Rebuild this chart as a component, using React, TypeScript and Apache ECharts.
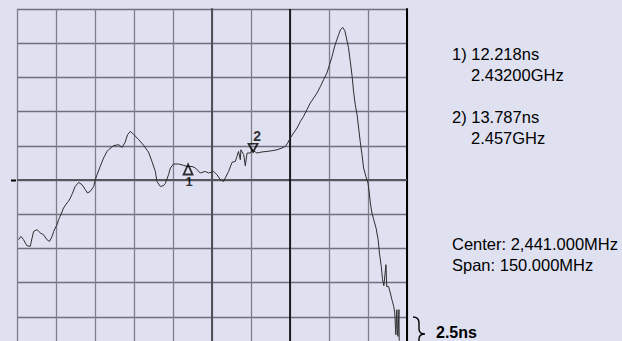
import React, { useEffect, useRef } from "react";
import * as echarts from "echarts";

// Frequency offset from center (MHz), center 2441 MHz, span 150 MHz
const freqOffsetMHz = [
  -74.4, -73.5, -72.5, -71.2, -69.9, -69.2, -68.6, -67.3, -66.0, -64.8,
  -63.5, -62.5, -61.5, -60.9, -60.3, -59.6, -59.0, -58.4, -57.1, -55.8,
  -55.2, -54.5, -53.9, -52.6, -51.3, -50.0, -48.7, -47.9, -46.8, -45.5,
  -44.9, -44.2, -43.0, -41.7, -40.4, -39.8, -37.9, -35.9, -34.6, -33.4,
  -32.5, -31.4, -30.2, -28.2, -26.3, -24.4, -23.1, -21.8, -21.2, -19.9,
  -18.7, -18.0, -16.7, -16.0, -14.8, -12.9, -10.9, -9.6, -7.7, -6.4,
  -4.5, -2.6, -1.3, 0.6, 1.9, 3.2, 4.5, 5.1, 6.4, 7.7,
  9.0, 9.6, 10.2, 10.9, 11.1, 12.2, 12.8, 13.5, 14.7, 15.4,
  17.3, 19.2, 21.2, 23.1, 25.0, 26.9, 28.2, 29.1, 30.1, 31.4,
  32.7, 34.0, 35.2, 36.5, 37.8, 39.1, 40.4, 41.7, 42.9, 44.2,
  45.2, 46.2, 47.0, 47.8, 48.7, 49.4, 50.3, 51.1, 51.7, 52.5,
  53.2, 53.9, 54.5, 55.1, 55.8, 56.4, 57.0, 57.7, 58.3, 59.2,
  60.0, 60.5, 60.9, 61.5, 62.2, 63.1, 63.9, 64.4, 65.1, 65.6,
  66.1, 66.9, 67.2, 67.9, 68.6, 69.2, 69.9, 70.3, 70.7, 71.1,
  71.3, 71.5, 71.9, 72.0,
];

// Group delay (ns), 2.5 ns/div
const groupDelayNs = [
  8.14, 8.38, 8.14, 7.70, 7.65, 8.26, 8.74, 8.87, 8.63, 8.50,
  8.14, 8.01, 8.38, 8.74, 8.99, 9.23, 9.60, 9.84, 10.45, 10.82,
  10.94, 11.18, 11.43, 12.03, 12.32, 12.16, 11.79, 11.55, 11.67, 12.03,
  12.52, 12.89, 13.49, 14.11, 14.59, 14.71, 15.01, 15.08, 14.88, 15.26,
  15.81, 16.05, 15.85, 15.45, 15.04, 14.53, 13.86, 13.13, 12.40, 12.03,
  12.08, 12.23, 12.89, 13.38, 13.67, 13.67, 13.57, 13.49, 13.49, 13.38,
  13.01, 13.13, 13.01, 13.13, 12.89, 12.52, 12.40, 12.65, 13.13, 13.79,
  13.86, 14.23, 14.59, 13.98, 14.71, 14.35, 13.54, 14.47, 14.47, 14.71,
  14.47, 14.55, 14.59, 14.64, 14.71, 14.84, 14.96, 15.20, 15.57, 15.94,
  16.30, 16.78, 17.15, 17.64, 18.13, 18.49, 18.86, 19.34, 19.83, 20.32,
  20.93, 21.54, 22.15, 22.63, 23.12, 23.49, 23.65, 23.41, 22.88, 22.17,
  21.15, 20.07, 18.88, 18.00, 17.27, 16.30, 15.32, 14.35, 13.38, 12.76,
  12.28, 11.55, 10.82, 10.09, 9.60, 8.99, 8.14, 7.16, 6.18, 5.21,
  4.77, 6.31, 4.70, 4.72, 4.24, 3.75, 3.26, 2.78, 1.19, 3.02,
  1.56, 1.07, 3.02, 0.75,
];

const marker1 = { label: "1", freq: -9.2, delay: 13.49 };
const marker2 = { label: "2", freq: 15.8, delay: 14.71 };

const markerTexts = [
  { line1: "1) 12.218ns", line2: "2.43200GHz" },
  { line1: "2) 13.787ns", line2: "2.457GHz" },
];
const centerText = "Center: 2,441.000MHz";
const spanText = "Span: 150.000MHz";
const scaleText = "2.5ns";

const xMin = -75, xMax = 75, xInterval = 15;
const yMin = 0, yMax = 25, yInterval = 2.5;
const refLevel = 12.5;
const markerLineX = 30;

const FONT = "'Liberation Sans', Arial, Helvetica, sans-serif";

echarts.graphic.registerShape(
  "brace",
  echarts.graphic.extendPath(
    "M0,0 Q6,0 6,6 L6,12 Q6,17 12,17 Q6,17 6,22 L6,28 Q6,34 0,34",
    {}
  )
);

export default function App() {
  const ref = useRef<HTMLDivElement>(null);

  useEffect(() => {
    document.body.style.margin = "0";
    if (!ref.current) return;
    const chart = echarts.init(ref.current, undefined, { renderer: "svg" });

    const trace = freqOffsetMHz.map((f, i) => [f, groupDelayNs[i]]);

    const textStyle = (text: string, x: number, y: number, bold = false, size = 16.5) => ({
      type: "text",
      x,
      y,
      style: {
        text,
        font: `${bold ? "bold " : ""}${size}px ${FONT}`,
        fill: "#000",
        textAlign: "left",
        textVerticalAlign: "middle",
        verticalAlign: "middle",
      },
      silent: true,
    });

    chart.setOption({
      animation: false,
      backgroundColor: "#dfe1f1",
      grid: {
        left: 17,
        top: 9,
        width: 390,
        height: 342,
        show: false,
        containLabel: false,
        outerBoundsMode: "none",
      },
      xAxis: {
        type: "value",
        min: xMin,
        max: xMax,
        interval: xInterval,
        position: "top",
        axisLine: { show: true, lineStyle: { color: "#111", width: 1 } },
        axisTick: { show: false },
        axisLabel: { show: false },
        splitLine: { show: true, lineStyle: { color: "#7c7e8a", width: 1.3 } },
      },
      yAxis: [
        {
          type: "value",
          min: yMin,
          max: yMax,
          interval: yInterval,
          position: "left",
          axisLine: { show: true, lineStyle: { color: "#505058", width: 2 } },
          axisTick: { show: false },
          axisLabel: { show: false },
          splitLine: { show: true, lineStyle: { color: "#6e707c", width: 1.4 } },
        },
        {
          type: "value",
          min: yMin,
          max: yMax,
          interval: yInterval,
          position: "right",
          axisLine: { show: true, lineStyle: { color: "#000", width: 2 } },
          axisTick: { show: false },
          axisLabel: { show: false },
          splitLine: { show: false },
        },
      ],
      series: [
        {
          type: "line",
          data: trace,
          showSymbol: false,
          lineStyle: { color: "#2e2e2e", width: 1 },
          z: 5,
          markLine: {
            silent: true,
            symbol: ["none", "none"],
            label: { show: false },
            data: [
              { yAxis: refLevel, lineStyle: { color: "#55575f", width: 2.2, type: "solid" } },
              { xAxis: markerLineX, lineStyle: { color: "#000", width: 1.6, type: "solid" } },
            ],
          },
        },
        {
          type: "scatter",
          data: [[marker1.freq, marker1.delay]],
          symbol: "triangle",
          symbolSize: [9, 10],
          symbolOffset: [0, 3],
          itemStyle: { color: "rgba(0,0,0,0)", borderColor: "#000", borderWidth: 1.8 },
          label: {
            show: true,
            formatter: marker1.label,
            position: "bottom",
            distance: 0,
            color: "#000",
            fontSize: 13,
            fontWeight: "bold",
            fontFamily: FONT,
            offset: [1, 0],
          },
          z: 10,
        },
        {
          type: "scatter",
          data: [[marker2.freq, marker2.delay]],
          symbol: "triangle",
          symbolRotate: 180,
          symbolSize: [9, 8],
          symbolOffset: [0, -2],
          itemStyle: { color: "rgba(0,0,0,0)", borderColor: "#000", borderWidth: 1.8 },
          label: {
            show: true,
            formatter: marker2.label,
            position: "top",
            distance: 0,
            color: "#000",
            fontSize: 14,
            fontWeight: "bold",
            fontFamily: FONT,
            offset: [4, 0],
          },
          z: 10,
        },
      ],
      graphic: [
        textStyle(markerTexts[0].line1, 452, 54),
        textStyle(markerTexts[0].line2, 471, 75),
        textStyle(markerTexts[1].line1, 452, 116.5),
        textStyle(markerTexts[1].line2, 471, 137.5),
        textStyle(centerText, 452, 243.5),
        textStyle(spanText, 452, 265),
        textStyle(scaleText, 436, 332.5, true, 16),
        {
          type: "brace",
          x: 413,
          y: 317,
          style: { stroke: "#000", fill: "none", lineWidth: 1.4 },
          silent: true,
        },
        {
          type: "line",
          shape: { x1: 11, y1: 180.5, x2: 16, y2: 180.5 },
          style: { stroke: "#000", lineWidth: 2 },
          silent: true,
        },
      ],
    });

    return () => chart.dispose();
  }, []);

  return (
    <div
      ref={ref}
      style={{ position: "fixed", left: 0, top: 0, width: 622, height: 341, overflow: "hidden" }}
    />
  );
}
